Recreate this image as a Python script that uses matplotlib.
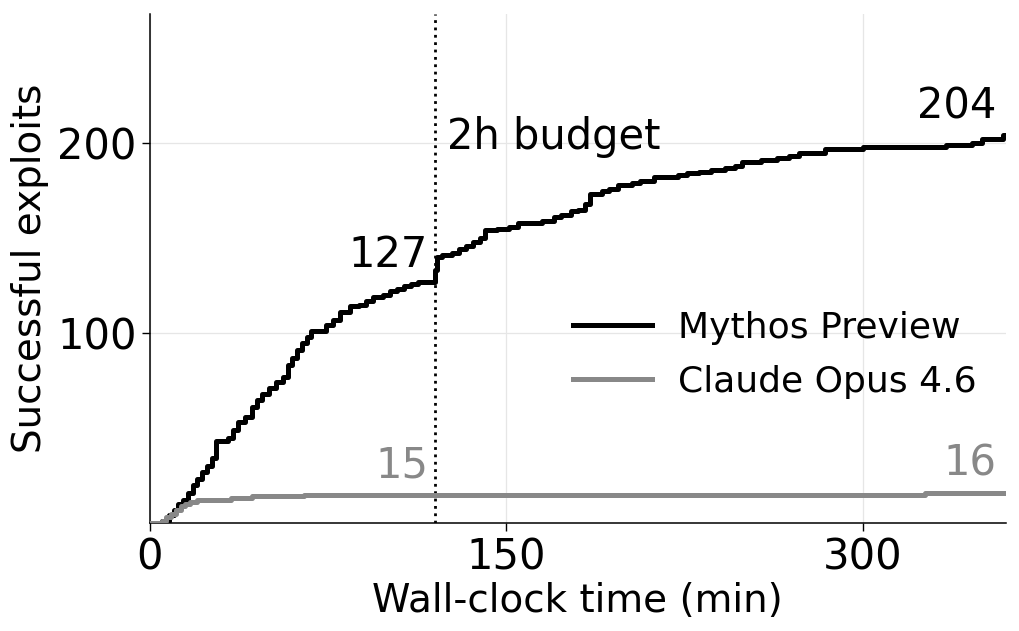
import numpy as np
import matplotlib
matplotlib.use("Agg")
import matplotlib.pyplot as plt

# cumulative successful exploits over wall-clock minutes
mythos_t = [0, 5, 8, 10, 12, 14, 16, 18, 20, 22, 24, 26, 28, 33, 35, 37, 40, 43,
            45, 47, 50, 53, 56, 58, 60, 62, 64, 66, 68, 74, 77, 80, 84, 88, 91,
            94, 98, 101, 104, 107, 110, 113, 120, 121, 123, 127, 130, 133, 136,
            139, 141, 146, 151, 155, 165, 170, 173, 177, 180, 183, 185, 190, 193,
            197, 203, 206, 212, 222, 226, 231, 236, 242, 246, 249, 257, 264, 269,
            273, 284, 300, 335, 346, 350, 359, 360]
mythos_n = [0, 1, 4, 7, 10, 12, 16, 20, 23, 27, 30, 34, 43, 45, 49, 53, 56, 61,
            65, 68, 71, 74, 77, 83, 87, 91, 95, 98, 101, 104, 107, 111, 114, 115,
            117, 119, 120, 122, 123, 125, 126, 127, 133, 140, 141, 142, 144, 146,
            148, 150, 154, 155, 156, 158, 159, 161, 162, 164, 165, 168, 173, 175,
            176, 178, 179, 180, 182, 183, 184, 185, 186, 187, 188, 190, 191, 192,
            193, 195, 197, 198, 199, 200, 202, 204, 204]

opus_t = [0, 5, 7, 9, 11, 13, 15, 17, 20, 34, 43, 65, 326, 360]
opus_n = [0, 1, 3, 5, 7, 9, 10, 11, 12, 13, 14, 15, 16, 16]

BUDGET = 120
labels = ["Mythos Preview", "Claude Opus 4.6"]

C_M = "black"
C_O = "#888888"

fig = plt.figure(figsize=(10.19, 6.31), dpi=100)
ax = fig.add_axes([0.147, 0.171, 0.840, 0.807])

ax.plot(mythos_t, mythos_n, drawstyle="steps-post", color=C_M, lw=3.6,
        label=labels[0], zorder=3)
ax.plot(opus_t, opus_n, drawstyle="steps-post", color=C_O, lw=3.6,
        label=labels[1], zorder=3)
ax.axvline(BUDGET, color="black", ls=":", lw=2, zorder=2)

ax.text(BUDGET + 5, 197, "2h budget", fontsize=30, ha="left", va="baseline")
ax.text(BUDGET - 3, 135, str(mythos_n[mythos_t.index(113)]), fontsize=30,
        ha="right", va="baseline")
ax.text(356, 213, str(mythos_n[-1]), fontsize=30, ha="right", va="baseline")
ax.text(BUDGET - 3, 24, str(opus_n[opus_t.index(65)]), fontsize=30,
        color=C_O, ha="right", va="baseline")
ax.text(356, 25, str(opus_n[-1]), fontsize=30, color=C_O, ha="right",
        va="baseline")

ax.set_xlim(0, 360)
ax.set_ylim(0, 268)
ax.set_xticks([0, 150, 300])
ax.set_yticks([100, 200])
ax.tick_params(labelsize=30, length=6, width=1)
ax.set_xlabel("Wall-clock time (min)", fontsize=28, labelpad=3)
ax.set_ylabel("Successful exploits", fontsize=28, labelpad=6)
ax.grid(color="#e6e6e6", lw=0.9, zorder=0)
ax.set_axisbelow(True)
for s in ("top", "right"):
    ax.spines[s].set_visible(False)
for s in ("left", "bottom"):
    ax.spines[s].set_linewidth(1.1)

ax.legend(loc="center left", bbox_to_anchor=(0.494, 0.330), frameon=False,
          fontsize=26, borderpad=0, borderaxespad=0, handlelength=2.2,
          handletextpad=0.72, labelspacing=0.55)

fig.savefig("out.png", dpi=100)
